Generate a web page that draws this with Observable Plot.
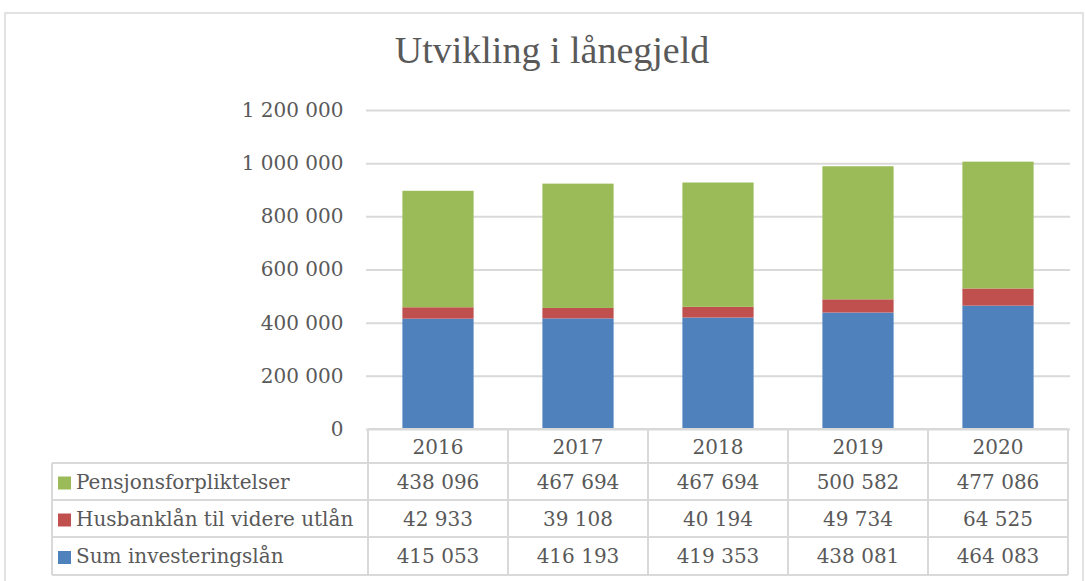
<!DOCTYPE html>
<html><head><meta charset="utf-8">
<script src="https://cdn.jsdelivr.net/npm/d3@7"></script>
<script src="https://cdn.jsdelivr.net/npm/@observablehq/plot@0.6"></script>
<style>
body{margin:0;background:#fff}
svg{font-family:"DejaVu Serif",serif}
</style>
</head><body><div id="chart"></div>
<script>
const years = ["2016","2017","2018","2019","2020"];
const seriesNames = ["Pensjonsforpliktelser","Husbanklån til videre utlån","Sum investeringslån"];
const pensjon = [438096,467694,467694,500582,477086];
const husbank = [42933,39108,40194,49734,64525];
const invest = [415053,416193,419353,438081,464083];
const colors = ["#9BBB59","#C0504D","#4F81BD"];
const yTicks = [0,200000,400000,600000,800000,1000000,1200000];
const title = "Utvikling i lånegjeld";

const seriesValues = [pensjon, husbank, invest];
const data = [];
years.forEach((yr,i)=>{
  [2,1,0].forEach(s=>data.push({year:yr, series:seriesNames[s], value:seriesValues[s][i]}));
});
const fmt = v => d3.format(",")(v).replace(/,/g," ");
const textColor = "#595959";
const lineColor = "#d9d9d9";
const fs = 20;

const plot = Plot.plot({
  width:1085, height:581,
  marginLeft:366, marginRight:15, marginTop:110, marginBottom:152,
  style:{fontFamily:"DejaVu Serif, serif", fontSize:fs+"px", background:"#fff"},
  x:{domain:years, padding:0, axis:null},
  y:{domain:[0,1200000], axis:null, label:null},
  color:{domain:seriesNames, range:colors},
  marks:[
    Plot.gridY(yTicks,{stroke:lineColor, strokeOpacity:1, strokeWidth:2}),
    Plot.axisY(yTicks,{tickSize:0, tickPadding:23, tickFormat:fmt, fontSize:fs, color:textColor, label:null}),
    Plot.barY(data,{x:"year", y:"value", fill:"series", order:[seriesNames[2],seriesNames[1],seriesNames[0]], insetLeft:34.4, insetRight:34.4})
  ]
});
document.getElementById("chart").appendChild(plot);

const svg = d3.select(plot);
const xs = plot.scale("x");
const bw = xs.bandwidth;
const left = xs.apply(years[0]);
const right = xs.apply(years[years.length-1]) + bw;
const g = svg.append("g").attr("text-anchor","start");

// outer border
g.append("rect").attr("x",5).attr("y",13).attr("width",1078).attr("height",600)
  .attr("fill","none").attr("stroke",lineColor).attr("stroke-width",1.5);

// title
g.append("text").attr("x",552).attr("y",63).attr("text-anchor","middle")
  .attr("font-family","Liberation Serif, serif")
  .attr("font-size",38).attr("fill",textColor).text(title);

// table
const headTop = 429, rowH = [463,500,537,575];
const legLeft = 52;
const lines = g.append("g").attr("stroke",lineColor).attr("stroke-width",2);
lines.append("line").attr("x1",left).attr("x2",right).attr("y1",headTop).attr("y2",headTop);
rowH.forEach(y=>lines.append("line").attr("x1",legLeft).attr("x2",right).attr("y1",y).attr("y2",y));
years.forEach(yr=>{
  const x0 = xs.apply(yr);
  lines.append("line").attr("x1",x0).attr("x2",x0).attr("y1",headTop).attr("y2",rowH[3]);
});
lines.append("line").attr("x1",right).attr("x2",right).attr("y1",headTop).attr("y2",rowH[3]);
lines.append("line").attr("x1",legLeft).attr("x2",legLeft).attr("y1",rowH[0]).attr("y2",rowH[3]);

const tg = g.append("g").attr("font-size",fs).attr("fill",textColor);
years.forEach(yr=>{
  tg.append("text").attr("x",xs.apply(yr)+bw/2).attr("y",headTop+25).attr("text-anchor","middle").text(yr);
});
seriesNames.forEach((name,s)=>{
  const base = rowH[s]+26;
  const cy = (rowH[s]+rowH[s+1])/2+1;
  g.append("rect").attr("x",58).attr("y",cy-6).attr("width",13).attr("height",13).attr("fill",colors[s]);
  tg.append("text").attr("x",76).attr("y",base).attr("text-anchor","start").text(name);
  years.forEach((yr,i)=>{
    tg.append("text").attr("x",xs.apply(yr)+bw/2).attr("y",base).attr("text-anchor","middle").text(fmt(seriesValues[s][i]));
  });
});
</script>
</body></html>
